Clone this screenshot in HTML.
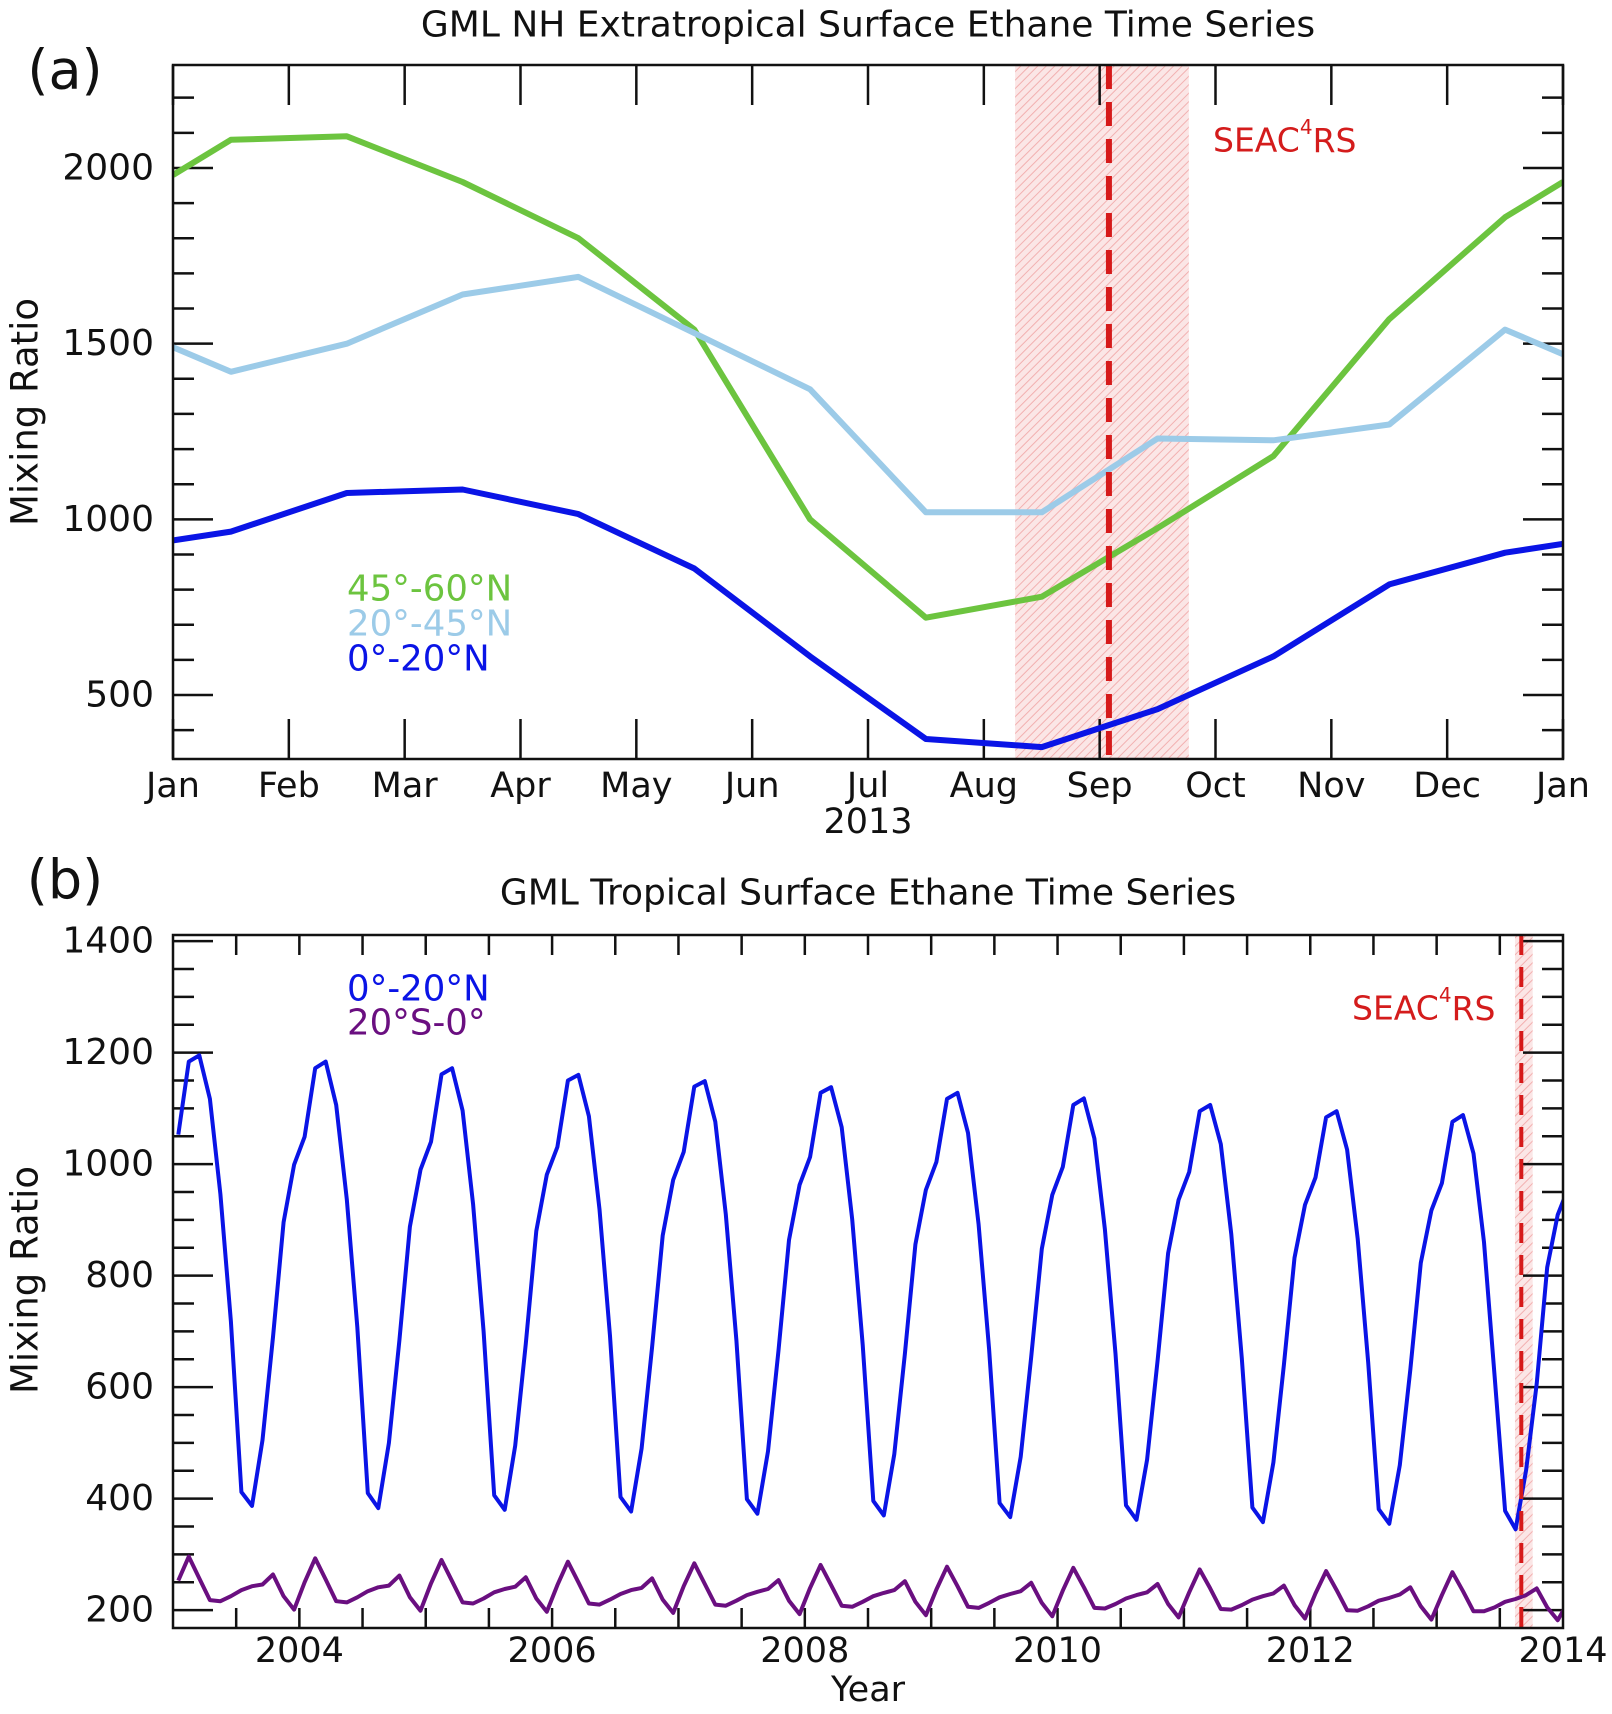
<!DOCTYPE html>
<html><head><meta charset="utf-8">
<style>
html,body{margin:0;padding:0;background:#fff;}
svg{display:block;font-family:"DejaVu Sans","Liberation Sans",sans-serif;}
</style></head>
<body>
<svg id="chart" width="1612" height="1714" viewBox="0 0 1612 1714" xmlns="http://www.w3.org/2000/svg">
<defs>
<pattern id="hatch" patternUnits="userSpaceOnUse" width="6" height="6" patternTransform="rotate(45)">
<rect width="6" height="6" fill="#fbe6e6"/>
<line x1="0" y1="0" x2="0" y2="6" stroke="#f2b0b0" stroke-width="2"/>
</pattern>
<clipPath id="clipA"><rect x="173" y="65" width="1390" height="694"/></clipPath>
<clipPath id="clipB"><rect x="173" y="935" width="1390" height="693"/></clipPath>
</defs>
<g id="panelA"></g>
<g id="panelB"></g>
</svg>
<script>
// ---- Panel (a) data ----
const monthLabels = ["Jan","Feb","Mar","Apr","May","Jun","Jul","Aug","Sep","Oct","Nov","Dec","Jan"];
const aMonths = [0,0.5,1.5,2.5,3.5,4.5,5.5,6.5,7.5,8.5,9.5,10.5,11.5,12];
const green4560 = [1980,2080,2090,1960,1800,1540,1000,720,780,975,1180,1570,1860,1960];
const lblue2045 = [1490,1420,1500,1640,1690,1530,1370,1020,1020,1230,1225,1270,1540,1470];
const blue020a = [940,965,1075,1085,1015,860,610,375,352,460,610,815,905,930];
const aYTicks = [500,1000,1500,2000];
const aCampaign = [7.27,8.77];
const aCampaignLine = [8.08];

// ---- Panel (b) data ----
const bYearLabels = [2004,2006,2008,2010,2012,2014];
const bYTicks = [200,400,600,800,1000,1200,1400];
const blue020b = [
1053,1184,1195,1117,946,718,412,387,505,690,896,999,
1049,1172,1184,1106,937,708,410,383,500,684,888,990,
1040,1161,1172,1096,928,700,406,380,495,678,880,981,
1031,1150,1160,1086,919,692,403,377,490,672,872,972,
1022,1139,1149,1076,910,684,399,373,485,666,864,963,
1013,1128,1138,1066,901,676,396,370,480,660,856,954,
1004,1117,1128,1056,892,668,392,367,475,654,848,945,
995,1106,1118,1046,883,660,388,362,470,648,840,936,
986,1095,1106,1036,874,652,384,358,465,640,832,927,
976,1084,1095,1026,866,644,381,355,460,631,823,917,
966,1076,1088,1019,860,620,378,345,451,606,815,909,
957];
const purple20S0 = [
253,296,257,218,216,225,236,243,246,264,225,201,
250,293,255,216,214,223,234,241,244,262,223,199,
248,290,252,214,212,221,232,238,242,259,221,197,
245,287,250,212,210,219,229,236,240,257,219,195,
243,284,247,210,208,217,227,233,238,254,217,193,
240,281,245,208,206,215,225,231,236,252,215,191,
237,278,243,206,204,213,223,229,234,249,213,189,
235,276,241,204,203,211,221,227,232,247,211,187,
232,273,239,202,201,209,219,225,230,244,209,185,
230,270,236,200,199,207,217,222,228,241,207,183,
227,268,234,198,198,205,215,220,227,239,205,182,
215];
const bStartYear = 2003;
const bCampaign = [2013.62,2013.76];
const bCampaignLine = [2013.67];

const NS = "http://www.w3.org/2000/svg";
function mk(tag, attrs, parent){
  const e = document.createElementNS(NS, tag);
  for (const k in attrs) e.setAttribute(k, attrs[k]);
  parent.appendChild(e); return e;
}
function txt(parent, x, y, s, size, anchor, fill, extra){
  const t = mk("text", {x:x, y:y, "font-size":size, "text-anchor":anchor||"middle", fill:fill||"#111", "dominant-baseline":"central"}, parent);
  if (extra) for (const k in extra) t.setAttribute(k, extra[k]);
  t.textContent = s; return t;
}

// ===== Panel A =====
const A = document.getElementById("panelA");
const aL=173, aR=1563, aT=65, aB=759, aYmin=318, aYmax=2293;
const ax = m => aL + (aR-aL)*m/12;
const ay = v => aB - (aB-aT)*(v-aYmin)/(aYmax-aYmin);

let t = txt(A, 868, 25, "GML NH Extratropical Surface Ethane Time Series", 36);


t = txt(A, 65, 70, "(a)", 54);



let band = mk("rect", {x:ax(aCampaign[0]), y:aT, width:ax(aCampaign[1])-ax(aCampaign[0]), height:aB-aT, fill:"url(#hatch)"}, A);



const ticksA = mk("g", {stroke:"#111","stroke-width":2.5}, A);


for (let m=0;m<=12;m++){
  mk("line",{x1:ax(m),x2:ax(m),y1:aB,y2:aB-40},ticksA);
  mk("line",{x1:ax(m),x2:ax(m),y1:aT,y2:aT+40},ticksA);
}
for (let v=400; v<=2200; v+=100){
  const major = v%500===0, len = major?40:21;
  mk("line",{x1:aL,x2:aL+len,y1:ay(v),y2:ay(v)},ticksA);
  mk("line",{x1:aR,x2:aR-len,y1:ay(v),y2:ay(v)},ticksA);
}
monthLabels.forEach((s,i)=>{
  const l = txt(A, ax(i), 786, s, 35);
  
  
});
aYTicks.forEach(v=>{
  const l = txt(A, 154, ay(v), String(v), 36, "end");
  
  
});
t = txt(A, 868, 822, "2013", 35);


t = txt(A, 25, 412, "Mixing Ratio", 37, "middle", "#111", {transform:"rotate(-90 25 412)"});



function series(parent, xs, ys, xf, yf, color, w, clip, name){
  const pts = xs.map((x,i)=>xf(x).toFixed(1)+","+yf(ys[i]).toFixed(1)).join(" ");
  const p = mk("polyline",{points:pts, fill:"none", stroke:color, "stroke-width":w, "stroke-linejoin":"round", "clip-path":clip}, parent);
  
  
}
series(A, aMonths, green4560, ax, ay, "#6cc43f", 6, "url(#clipA)", "line-45-60n");
series(A, aMonths, lblue2045, ax, ay, "#9ccbe8", 6, "url(#clipA)", "line-20-45n");
series(A, aMonths, blue020a, ax, ay, "#0a14e6", 6, "url(#clipA)", "line-0-20n-a");

let dl = mk("line",{x1:ax(aCampaignLine[0]),x2:ax(aCampaignLine[0]),y1:aT,y2:aB,stroke:"#d61a1a","stroke-width":6,"stroke-dasharray":"24 13"},A);


t = txt(A, 1213, 140, "SEAC", 33, "start", "#d41c1c");


t.innerHTML = 'SEAC<tspan font-size="20" dy="-13">4</tspan><tspan dy="13">RS</tspan>';

const frameA = mk("rect",{x:aL,y:aT,width:aR-aL,height:aB-aT,fill:"none",stroke:"#111","stroke-width":2.5},A);



[["45°-60°N","#6cc43f",589],["20°-45°N","#9ccbe8",624],["0°-20°N","#0a14e6",659]].forEach(e=>{
  const l = txt(A, 347, e[2], e[0], 35.5, "start", e[1]);
  
  
});

// ===== Panel B =====
const B = document.getElementById("panelB");
const bL=173, bR=1563, bT=935, bB=1628, bYmin=168, bYmax=1411, bX0=2003, bX1=2014;
const bx = yr => bL + (bR-bL)*(yr-bX0)/(bX1-bX0);
const by = v => bB - (bB-bT)*(v-bYmin)/(bYmax-bYmin);

t = txt(B, 868, 893, "GML Tropical Surface Ethane Time Series", 36);


t = txt(B, 65, 880, "(b)", 54);



band = mk("rect", {x:bx(bCampaign[0]), y:bT, width:bx(bCampaign[1])-bx(bCampaign[0]), height:bB-bT, fill:"url(#hatch)"}, B);



const ticksB = mk("g", {stroke:"#111","stroke-width":2.5}, B);


for (let yr=2003.5; yr<2014; yr+=0.5){
  mk("line",{x1:bx(yr),x2:bx(yr),y1:bB,y2:bB-20},ticksB);
  mk("line",{x1:bx(yr),x2:bx(yr),y1:bT,y2:bT+20},ticksB);
}
for (let v=200; v<=1400; v+=50){
  const major = v%200===0, len = major?40:21;
  mk("line",{x1:bL,x2:bL+len,y1:by(v),y2:by(v)},ticksB);
  mk("line",{x1:bR,x2:bR-len,y1:by(v),y2:by(v)},ticksB);
}
bYearLabels.forEach(yr=>{
  const l = txt(B, bx(yr), 1651, String(yr), 35);
  
  
});
bYTicks.forEach(v=>{
  const l = txt(B, 154, by(v), String(v), 36, "end");
  
  
});
t = txt(B, 868, 1690, "Year", 35);


t = txt(B, 25, 1280, "Mixing Ratio", 37, "middle", "#111", {transform:"rotate(-90 25 1280)"});



const bTimes = blue020b.map((v,i)=>bStartYear + (i+0.5)/12);
series(B, bTimes, blue020b, bx, by, "#0a14e6", 4, "url(#clipB)", "line-0-20n-b");
series(B, bTimes, purple20S0, bx, by, "#6a0f80", 4, "url(#clipB)", "line-20s-0");

dl = mk("line",{x1:bx(bCampaignLine[0]),x2:bx(bCampaignLine[0]),y1:bT,y2:bB,stroke:"#d61a1a","stroke-width":4,"stroke-dasharray":"20 12"},B);


t = txt(B, 1352, 1008, "SEAC", 33, "start", "#d41c1c");


t.innerHTML = 'SEAC<tspan font-size="20" dy="-13">4</tspan><tspan dy="13">RS</tspan>';

const frameB = mk("rect",{x:bL,y:bT,width:bR-bL,height:bB-bT,fill:"none",stroke:"#111","stroke-width":2.5},B);



[["0°-20°N","#0a14e6",989],["20°S-0°","#6a0f80",1023]].forEach(e=>{
  const l = txt(B, 347, e[2], e[0], 35.5, "start", e[1]);
  
  
});
</script>
</body></html>
